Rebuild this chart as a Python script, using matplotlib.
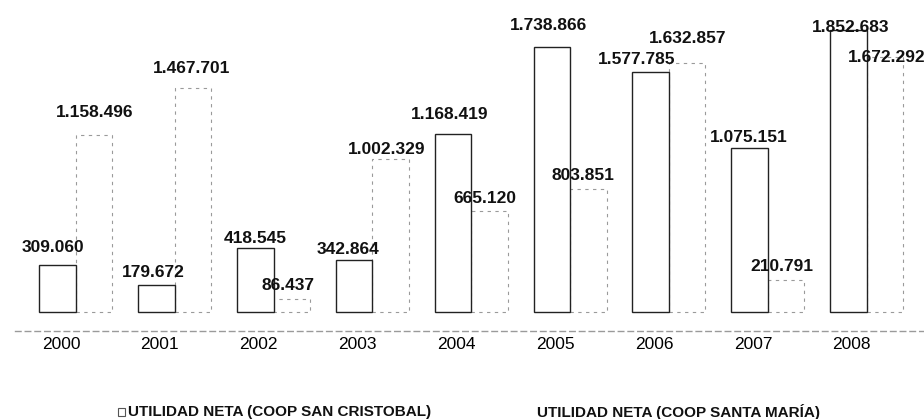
import matplotlib
matplotlib.use("Agg")
import matplotlib.pyplot as plt
from matplotlib.patches import Rectangle
import numpy as np

years = ["2000", "2001", "2002", "2003", "2004", "2005", "2006", "2007", "2008"]
san_cristobal = [309060, 179672, 418545, 342864, 1168419, 1738866, 1577785, 1075151, 1852683]
santa_maria = [1158496, 1467701, 86437, 1002329, 665120, 803851, 1632857, 210791, 1672292]
legend_labels = ["UTILIDAD NETA (COOP SAN CRISTOBAL)", "UTILIDAD NETA (COOP SANTA MARÍA)"]

# label placement (pixels): horizontal shift and height of label centre above bar top
sc_dx = [-5, -3, 0, -6, -3, -3, -14, -1, 2]
sc_dy = [17, 12, 10, 10, 19, 21, 12, 11, 2]
sm_dx = [1, -1, -4, -4, -5, -5, 0, -4, 2]
sm_dy = [23, 20, 13, 10, 12, 14, 25, 13, 0]


def fmt(v):
    return f"{v:,}".replace(",", ".")


plt.rcParams['font.family'] = ['Liberation Sans', 'DejaVu Sans']

W, H = 924, 419
PT = 72 / 100  # points per pixel
fig = plt.figure(figsize=(W / 100, H / 100), dpi=100)
ax = fig.add_axes([15 / W, (H - 331) / H, (W - 15) / W, 331 / H])
ax.set_facecolor("white")

x = np.arange(len(years))
w = 0.37
off_sc, off_sm = -0.035, 0.334
ax.bar(x + off_sc, san_cristobal, width=w, facecolor="white",
       edgecolor="#222222", linewidth=1.0, zorder=3)
ax.bar(x + off_sm, santa_maria, width=w, facecolor="white",
       edgecolor="#9a9a9a", linewidth=0.8, linestyle=(0, (3, 4)), zorder=2)

for xi, v, dx, dy in zip(x + off_sc, san_cristobal, sc_dx, sc_dy):
    ax.annotate(fmt(v), (xi, v), xytext=(dx * PT, dy * PT), textcoords="offset points",
                ha="center", va="center", fontsize=12.5, fontweight="bold",
                color="#111111", zorder=5)
for xi, v, dx, dy in zip(x + off_sm, santa_maria, sm_dx, sm_dy):
    ax.annotate(fmt(v), (xi, v), xytext=(dx * PT, dy * PT), textcoords="offset points",
                ha="center", va="center", fontsize=12.5, fontweight="bold",
                color="#111111", zorder=5, annotation_clip=False)

ax.set_xlim(-0.465, 8.73)
ax.set_ylim(-124700, 2.047e6)
ax.set_xticks(x)
ax.set_xticklabels(years, fontsize=12.5)
ax.tick_params(axis="x", length=0, pad=4)
ax.set_yticks([])
for s in ["top", "right", "left"]:
    ax.spines[s].set_visible(False)
ax.spines["bottom"].set_color("#9a9a9a")
ax.spines["bottom"].set_linestyle((0, (4, 3)))
ax.spines["bottom"].set_linewidth(1.0)

# legend at bottom
fig.patches.append(Rectangle((118 / W, (H - 416) / H), 7 / W, 8 / H,
                             transform=fig.transFigure, facecolor="white",
                             edgecolor="#555555", linewidth=0.8))
fig.text(128 / W, (H - 412) / H, legend_labels[0], fontsize=11, fontweight="bold",
         va="center", ha="left", color="#111111")
fig.text(537 / W, (H - 412) / H, legend_labels[1], fontsize=11, fontweight="bold",
         va="center", ha="left", color="#111111")

fig.savefig("out.png", dpi=100, facecolor="white")
